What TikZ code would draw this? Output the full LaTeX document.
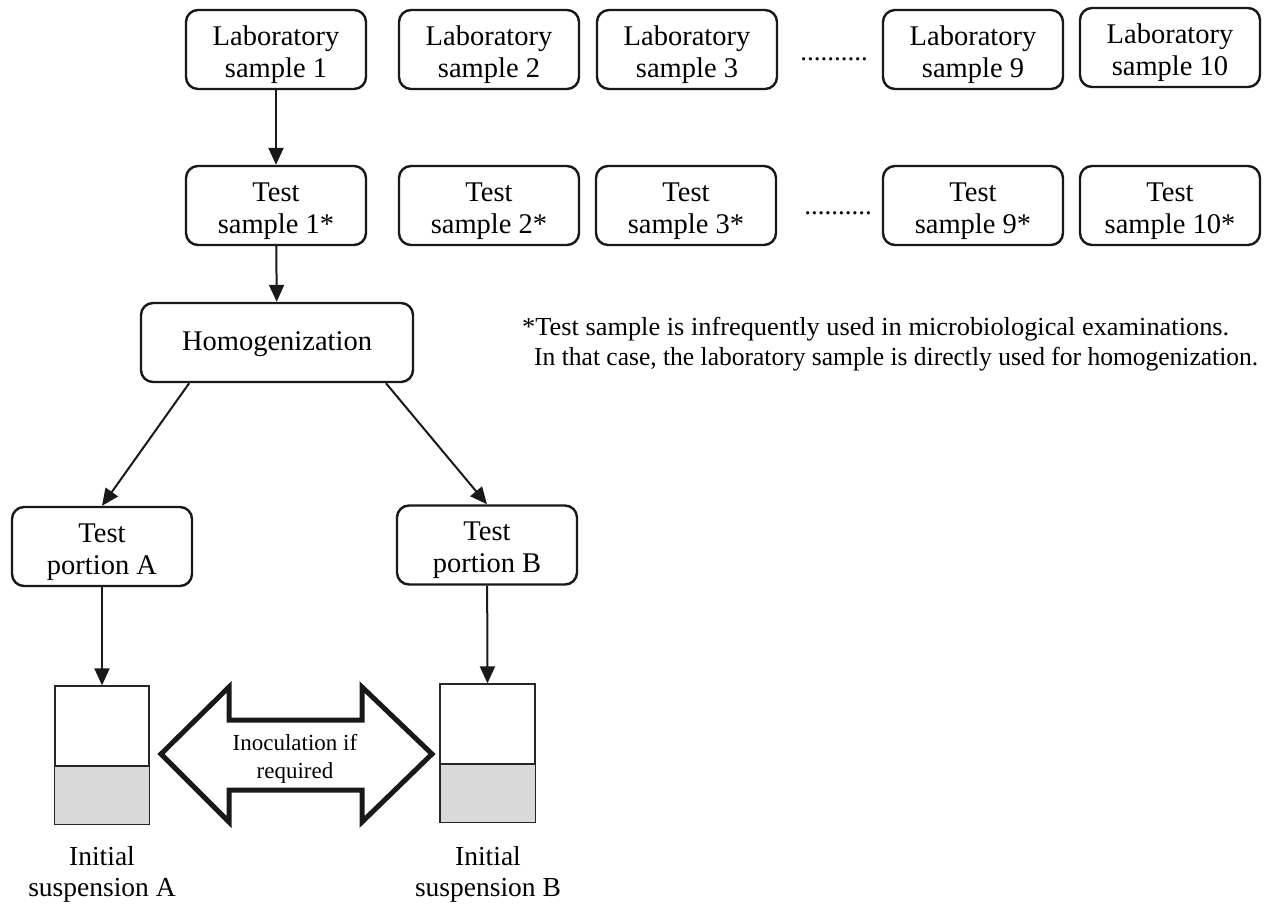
\documentclass[tikz,border=0pt]{standalone}
\usepackage{fontspec}
\usepackage{graphicx}
\setmainfont{Liberation Serif}
\usetikzlibrary{arrows.meta,calc}
% extra height on a first line to push two-line labels down a little
\newcommand{\lowerby}{\rule{0pt}{30pt}}
\begin{document}
\begin{tikzpicture}[x=1pt,y=-1pt,
  box/.style={draw=black!90,line width=2.4pt,rounded corners=12pt,
    minimum width=180pt,minimum height=79pt,align=center,inner sep=2pt,
    font=\fontsize{28.5}{32}\selectfont},
  flow/.style={draw=black!90,line width=2pt,-{Triangle[width=15pt,length=17pt]}},
  lbl/.style={align=center,font=\fontsize{27.5}{31}\selectfont},
  beaker/.style={draw=black!85,line width=1.3pt,minimum width=94pt,minimum height=138pt,inner sep=0pt},
  dotrow/.style={font=\fontsize{27}{32}\selectfont,inner sep=0pt}]
\useasboundingbox (0,0) rectangle (1267,906);

% top row: laboratory samples
\node[box] (lab1)  at (276,49.5)  {\lowerby Laboratory\\sample 1};
\node[box] (lab2)  at (489,49.5)  {\lowerby Laboratory\\sample 2};
\node[box] (lab3)  at (687,49.5)  {\lowerby Laboratory\\sample 3};
\node[box] (lab9)  at (973,49.5)  {\lowerby Laboratory\\sample 9};
\node[box] (lab10) at (1170,47.5) {\lowerby Laboratory\\sample 10};
\node[dotrow] (dots1) at (834,59) {..........};

% second row: test samples
\node[box] (test1)  at (276,205.5)  {\lowerby Test\\sample 1*};
\node[box] (test2)  at (489,205.5)  {\lowerby Test\\sample 2*};
\node[box] (test3)  at (686,205.5)  {\lowerby Test\\sample 3*};
\node[box] (test9)  at (973,205.5)  {\lowerby Test\\sample 9*};
\node[box] (test10) at (1170,205.5) {\lowerby Test\\sample 10*};
\node[dotrow] (dots2) at (838,213) {..........};

% homogenization and test portions
\node[box,minimum width=272pt] (homog) at (277,342.5) {\rule{0pt}{22pt}Homogenization};
\node[box] (portA) at (102,546.5) {\lowerby Test\\portion A};
\node[box] (portB) at (487,545)   {\lowerby Test\\portion B};

% footnote
\node[anchor=north west,align=left,font=\fontsize{26}{30}\selectfont,inner sep=0pt]
  (note) at (522,317)
  {\resizebox{707pt}{\height}{*Test sample is infrequently used in microbiological examinations.}\\
   \hspace*{12pt}\resizebox{724pt}{\height}{In that case, the laboratory sample is directly used for homogenization.}};

% beakers holding the initial suspensions
\node[beaker] (beakA) at (102,755) {};
\fill[black!15] (beakA.west |- 0,766) rectangle (beakA.south east);
\draw[black!85,line width=1.3pt] (beakA.west |- 0,766) -- (beakA.east |- 0,766);
\draw[black!85,line width=1.3pt] (beakA.north west) rectangle (beakA.south east);

\node[beaker] (beakB) at (487.5,753) {};
\fill[black!15] (beakB.west |- 0,764) rectangle (beakB.south east);
\draw[black!85,line width=1.3pt] (beakB.west |- 0,764) -- (beakB.east |- 0,764);
\draw[black!85,line width=1.3pt] (beakB.north west) rectangle (beakB.south east);

\node[lbl] (initA) at (102,874) {Initial\\suspension A};
\node[lbl] (initB) at (488,874) {Initial\\suspension B};

% double arrow for inoculation
\draw[black!90,line width=5pt,line join=miter,fill=white]
  (161,754) -- (229,687) -- (229,720) -- (362,720) -- (362,687) -- (432,754)
  -- (362,822) -- (362,790) -- (229,790) -- (229,822) -- cycle;
\node[align=center,font=\fontsize{23}{28}\selectfont] (inoc) at (295,759) {Inoculation if\\required};

% connectors
\draw[flow] (lab1) -- (test1);
\draw[flow] (test1) -- (homog);
\draw[flow] ($(homog.south west)!0.18!(homog.south east)$) -- (portA.north);
\draw[flow] ($(homog.south west)!0.897!(homog.south east)$) -- (portB.north);
\draw[flow] (portA) -- (beakA.north);
\draw[flow] (portB) -- (beakB.north);
\end{tikzpicture}
\end{document}
